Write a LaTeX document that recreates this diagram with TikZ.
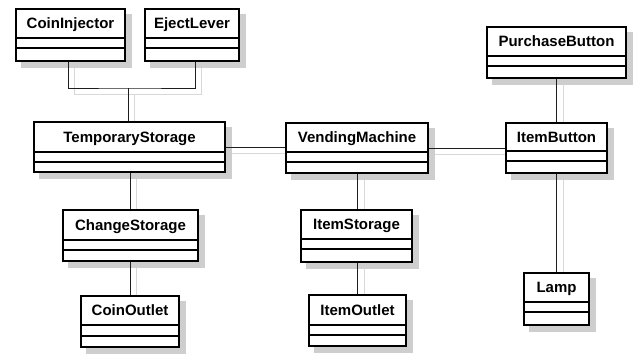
\documentclass[tikz,border=0pt]{standalone}
\usepackage{fontspec}
\setmainfont{Liberation Sans}
\usetikzlibrary{calc}

\definecolor{boxshade}{RGB}{206,206,206}
\definecolor{lineshade}{RGB}{216,216,216}
\definecolor{linkcol}{RGB}{30,30,30}

\tikzset{
  classbox/.style={draw=black, line width=2pt, fill=white, inner sep=0pt},
  classsep/.style={line width=1.2pt, draw=black},
  classname/.style={font=\fontsize{15}{17}\selectfont\bfseries, inner sep=0pt, anchor=base},
  boxshadow/.style={fill=boxshade},
  link/.style={draw=linkcol, line width=1pt},
  linkshadow/.style={draw=lineshade, line width=1pt}
}

% UML class box: name, left, top, right, bottom, separator 1, separator 2, title
\newcommand\umlclass[8]{%
  \node[classbox, minimum width={(#4-#2-2)*1pt}, minimum height={(#5-#3-2)*1pt}]
    (#1) at ({(#2+#4)/2},{(#3+#5)/2}) {};
  \draw[classsep] (#2,#6) -- (#4,#6);
  \draw[classsep] (#2,#7) -- (#4,#7);
  \node[classname] (#1-title) at ({(#2+#4)/2},{(#3+#6)/2+5.5}) {#8};
}
\newcommand\umlshadow[4]{%
  \fill[boxshadow] (#1+6,#2+6) rectangle (#3+6,#4+6);
}

\begin{document}
\begin{tikzpicture}[x=1pt,y=-1pt]
\useasboundingbox (0,0) rectangle (633,354);

% drop shadows of the boxes
\umlshadow{15}{8}{126}{62}
\umlshadow{144}{8}{240}{62}
\umlshadow{33}{121}{226}{173}
\umlshadow{62}{209}{199}{262}
\umlshadow{80}{295}{180}{348}
\umlshadow{285}{122}{429}{174}
\umlshadow{300}{209}{413}{263}
\umlshadow{308}{294}{407}{347}
\umlshadow{486}{26}{627}{79}
\umlshadow{505}{122}{608}{174}
\umlshadow{523}{272}{590}{326}

% drop shadows of the links
\begin{scope}[shift={(6,6)}]
  \draw[linkshadow] (68,62) -- (68,88) -- (195,88) -- (195,62);
  \draw[linkshadow] (128,88) -- (128,121);
  \draw[linkshadow] (226,147) -- (285,147);
  \draw[linkshadow] (429,148) -- (505,148);
  \draw[linkshadow] (130,173) -- (130,209);
  \draw[linkshadow] (130,262) -- (130,295);
  \draw[linkshadow] (358,174) -- (358,209);
  \draw[linkshadow] (358,263) -- (358,294);
  \draw[linkshadow] (557,79) -- (557,122);
  \draw[linkshadow] (557,174) -- (557,272);
\end{scope}

% classes
\umlclass{CoinInjector}{15}{8}{126}{62}{38}{48}{CoinInjector}
\umlclass{EjectLever}{144}{8}{240}{62}{38}{48}{EjectLever}
\umlclass{TemporaryStorage}{33}{121}{226}{173}{152}{162}{TemporaryStorage}
\umlclass{ChangeStorage}{62}{209}{199}{262}{240}{250}{ChangeStorage}
\umlclass{CoinOutlet}{80}{295}{180}{348}{325}{336}{CoinOutlet}
\umlclass{VendingMachine}{285}{122}{429}{174}{152}{162}{VendingMachine}
\umlclass{ItemStorage}{300}{209}{413}{263}{239}{249}{ItemStorage}
\umlclass{ItemOutlet}{308}{294}{407}{347}{325}{335}{ItemOutlet}
\umlclass{PurchaseButton}{486}{26}{627}{79}{56}{66}{PurchaseButton}
\umlclass{ItemButton}{505}{122}{608}{174}{151}{161}{ItemButton}
\umlclass{Lamp}{523}{272}{590}{326}{302}{312}{Lamp}

% junction of the two inputs above TemporaryStorage
\coordinate (join) at ([xshift=-1.5pt]TemporaryStorage.north |- 0,88);

% links
\draw[link] ([xshift=-2.5pt]CoinInjector.south) |- (join)
            -| ([xshift=3pt]EjectLever.south);
\draw[link] (join) -- ([xshift=-1.5pt]TemporaryStorage.north);
\draw[link] (TemporaryStorage.east) -- (TemporaryStorage.east -| VendingMachine.west);
\draw[link] (VendingMachine.east) -- (VendingMachine.east -| ItemButton.west);
\draw[link] (ChangeStorage.north |- TemporaryStorage.south) -- (ChangeStorage.north);
\draw[link] (CoinOutlet.north |- ChangeStorage.south) -- (CoinOutlet.north);
\draw[link] (VendingMachine.south) -- (VendingMachine.south |- ItemStorage.north);
\draw[link] (ItemOutlet.north |- ItemStorage.south) -- (ItemOutlet.north);
\draw[link] (PurchaseButton.south) -- (PurchaseButton.south |- ItemButton.north);
\draw[link] (ItemButton.south) -- (ItemButton.south |- Lamp.north);
\end{tikzpicture}
\end{document}
